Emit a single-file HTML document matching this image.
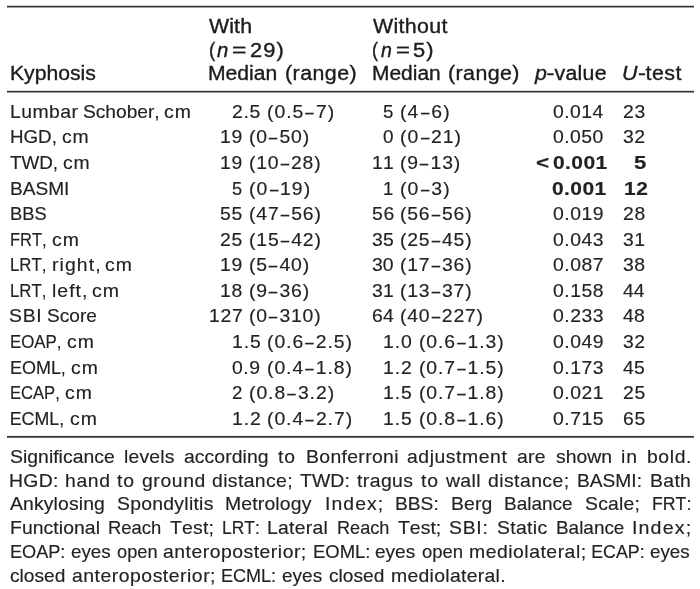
<!DOCTYPE html>
<html><head><meta charset="utf-8"><title>Table</title><style>

html,body{margin:0;padding:0;background:#fff;}
body{width:700px;height:589px;position:relative;overflow:hidden;filter:grayscale(1);font-family:"Liberation Sans",sans-serif;}
.t{position:absolute;white-space:pre;transform-origin:0 0;font-kerning:none;}
.h{font-size:19.6px;line-height:22px;color:#1c1c1c;-webkit-text-stroke:0.35px currentColor;}
.b{font-size:17.8px;line-height:20px;color:#222;-webkit-text-stroke:0.15px currentColor;}
.bd{font-weight:bold;}
.hy{display:inline-block;transform:scaleX(1.12);}
.d{display:inline-block;transform:scaleX(.78);-webkit-text-stroke:0.2px currentColor;}
i{font-style:italic;}
.r{position:absolute;left:7px;width:687px;height:3px;}

</style></head><body>
<div class="r" style="top:5px;background:linear-gradient(#d0d0d0 0 1px,#333 1px 2px,#a0a0a0 2px 3px)"></div>
<div class="r" style="top:90px;background:linear-gradient(#d8d8d8 0 1px,#333 1px 2px,#999 2px 3px)"></div>
<div class="r" style="top:435px;background:linear-gradient(#f0f0f0 0 1px,#383838 1px 2px,#6a6a6a 2px 3px)"></div>
<span class="t h" style="left:9.68px;top:62px;letter-spacing:0.000px;transform:scaleX(1.0800)">Kyphosis</span>
<span class="t h" style="left:209.00px;top:15px;letter-spacing:0.094px;transform:scaleX(1.0900)">With</span>
<span class="t h" style="left:208.54px;top:39px;letter-spacing:0.000px;transform:scaleX(0.9565)">(</span>
<span class="t h" style="left:217.34px;top:39px;letter-spacing:0.000px;transform:scaleX(1.0400)"><i>n</i></span>
<span class="t h" style="left:232.25px;top:39px;letter-spacing:0.000px;transform:scaleX(1.2600)">=</span>
<span class="t h" style="left:249.76px;top:39px;letter-spacing:1.000px;transform:scaleX(1.1158)">29)</span>
<span class="t h" style="left:207.78px;top:62px;letter-spacing:0.000px;transform:scaleX(1.0785)">Median</span>
<span class="t h" style="left:284.91px;top:62px;letter-spacing:0.434px;transform:scaleX(1.0900)">(range)</span>
<span class="t h" style="left:373.00px;top:15px;letter-spacing:0.293px;transform:scaleX(1.0900)">Without</span>
<span class="t h" style="left:372.38px;top:39px;letter-spacing:0.000px;transform:scaleX(0.9217)">(</span>
<span class="t h" style="left:380.95px;top:39px;letter-spacing:0.000px;transform:scaleX(1.0000)"><i>n</i></span>
<span class="t h" style="left:396.08px;top:39px;letter-spacing:0.000px;transform:scaleX(1.2200)">=</span>
<span class="t h" style="left:413.44px;top:39px;letter-spacing:1.000px;transform:scaleX(1.1176)">5)</span>
<span class="t h" style="left:371.80px;top:62px;letter-spacing:-0.000px;transform:scaleX(1.0688)">Median</span>
<span class="t h" style="left:447.91px;top:62px;letter-spacing:0.403px;transform:scaleX(1.0900)">(range)</span>
<span class="t h" style="left:535.22px;top:62px;letter-spacing:0.240px;transform:scaleX(1.0900)"><i>p</i><span class="hy">-</span>value</span>
<span class="t h" style="left:622.24px;top:62px;letter-spacing:0.442px;transform:scaleX(1.0900)"><i>U</i><span class="hy">-</span>test</span>
<span class="t b" style="left:9.54px;top:102px;letter-spacing:0.397px;transform:scaleX(1.0900)">Lumbar</span>
<span class="t b" style="left:82.59px;top:102px;letter-spacing:0.000px;transform:scaleX(1.0768)">Schober,</span>
<span class="t b" style="left:164.28px;top:102px;letter-spacing:1.000px;transform:scaleX(1.0913)">cm</span>
<span class="t b" style="left:9.58px;top:127px;letter-spacing:-0.000px;transform:scaleX(1.0539)">HGD,</span>
<span class="t b" style="left:62.08px;top:127px;letter-spacing:0.844px;transform:scaleX(1.0900)">cm</span>
<span class="t b" style="left:9.74px;top:153px;letter-spacing:0.000px;transform:scaleX(1.0583)">TWD,</span>
<span class="t b" style="left:63.48px;top:153px;letter-spacing:0.752px;transform:scaleX(1.0900)">cm</span>
<span class="t b" style="left:9.56px;top:179px;letter-spacing:0.000px;transform:scaleX(1.0724)">BASMI</span>
<span class="t b" style="left:9.61px;top:204px;letter-spacing:0.000px;transform:scaleX(1.0281)">BBS</span>
<span class="t b" style="left:9.94px;top:230px;letter-spacing:0.000px;transform:scaleX(0.9252)">FRT,</span>
<span class="t b" style="left:51.58px;top:230px;letter-spacing:0.936px;transform:scaleX(1.0900)">cm</span>
<span class="t b" style="left:9.92px;top:255px;letter-spacing:0.000px;transform:scaleX(0.9455)">LRT,</span>
<span class="t b" style="left:52.11px;top:255px;letter-spacing:1.000px;transform:scaleX(1.0905)">right,</span>
<span class="t b" style="left:105.18px;top:255px;letter-spacing:0.936px;transform:scaleX(1.0900)">cm</span>
<span class="t b" style="left:9.92px;top:281px;letter-spacing:0.000px;transform:scaleX(0.9455)">LRT,</span>
<span class="t b" style="left:52.11px;top:281px;letter-spacing:0.960px;transform:scaleX(1.0900)">left,</span>
<span class="t b" style="left:91.98px;top:281px;letter-spacing:1.000px;transform:scaleX(1.0957)">cm</span>
<span class="t b" style="left:9.48px;top:306px;letter-spacing:0.649px;transform:scaleX(1.0900)">SBI</span>
<span class="t b" style="left:47.30px;top:306px;letter-spacing:0.000px;transform:scaleX(1.0733)">Score</span>
<span class="t b" style="left:9.82px;top:332px;letter-spacing:0.000px;transform:scaleX(0.9469)">EOAP,</span>
<span class="t b" style="left:67.18px;top:332px;letter-spacing:0.936px;transform:scaleX(1.0900)">cm</span>
<span class="t b" style="left:9.74px;top:358px;letter-spacing:0.000px;transform:scaleX(1.0095)">EOML,</span>
<span class="t b" style="left:71.18px;top:358px;letter-spacing:0.936px;transform:scaleX(1.0900)">cm</span>
<span class="t b" style="left:9.83px;top:383px;letter-spacing:0.000px;transform:scaleX(0.9320)">ECAP,</span>
<span class="t b" style="left:65.18px;top:383px;letter-spacing:0.936px;transform:scaleX(1.0900)">cm</span>
<span class="t b" style="left:9.75px;top:409px;letter-spacing:0.000px;transform:scaleX(1.0000)">ECML,</span>
<span class="t b" style="left:69.68px;top:409px;letter-spacing:1.000px;transform:scaleX(1.0913)">cm</span>
<span class="t b" style="left:232.18px;top:102px;letter-spacing:0.623px;transform:scaleX(1.0900)">2.5</span>
<span class="t b" style="left:266.91px;top:102px;letter-spacing:0.897px;transform:scaleX(1.0900)">(0.5<span class="d">–</span>7)</span>
<span class="t b" style="left:220.24px;top:127px;letter-spacing:0.690px;transform:scaleX(1.0900)">19</span>
<span class="t b" style="left:248.91px;top:127px;letter-spacing:0.742px;transform:scaleX(1.0900)">(0<span class="d">–</span>50)</span>
<span class="t b" style="left:220.24px;top:153px;letter-spacing:0.690px;transform:scaleX(1.0900)">19</span>
<span class="t b" style="left:248.91px;top:153px;letter-spacing:0.737px;transform:scaleX(1.0900)">(10<span class="d">–</span>28)</span>
<span class="t b" style="left:232.23px;top:179px;letter-spacing:0.000px;transform:scaleX(1.0235)">5</span>
<span class="t b" style="left:248.91px;top:179px;letter-spacing:0.926px;transform:scaleX(1.0900)">(0<span class="d">–</span>19)</span>
<span class="t b" style="left:220.18px;top:204px;letter-spacing:0.741px;transform:scaleX(1.0900)">55</span>
<span class="t b" style="left:248.91px;top:204px;letter-spacing:0.767px;transform:scaleX(1.0900)">(47<span class="d">–</span>56)</span>
<span class="t b" style="left:220.18px;top:230px;letter-spacing:0.741px;transform:scaleX(1.0900)">25</span>
<span class="t b" style="left:248.91px;top:230px;letter-spacing:0.767px;transform:scaleX(1.0900)">(15<span class="d">–</span>42)</span>
<span class="t b" style="left:220.24px;top:255px;letter-spacing:0.690px;transform:scaleX(1.0900)">19</span>
<span class="t b" style="left:248.91px;top:255px;letter-spacing:0.742px;transform:scaleX(1.0900)">(5<span class="d">–</span>40)</span>
<span class="t b" style="left:220.24px;top:281px;letter-spacing:0.690px;transform:scaleX(1.0900)">18</span>
<span class="t b" style="left:248.91px;top:281px;letter-spacing:0.742px;transform:scaleX(1.0900)">(9<span class="d">–</span>36)</span>
<span class="t b" style="left:209.04px;top:306px;letter-spacing:0.608px;transform:scaleX(1.0900)">127</span>
<span class="t b" style="left:248.91px;top:306px;letter-spacing:0.737px;transform:scaleX(1.0900)">(0<span class="d">–</span>310)</span>
<span class="t b" style="left:231.74px;top:332px;letter-spacing:0.827px;transform:scaleX(1.0900)">1.5</span>
<span class="t b" style="left:266.91px;top:332px;letter-spacing:0.851px;transform:scaleX(1.0900)">(0.6<span class="d">–</span>2.5)</span>
<span class="t b" style="left:232.46px;top:358px;letter-spacing:0.498px;transform:scaleX(1.0900)">0.9</span>
<span class="t b" style="left:266.91px;top:358px;letter-spacing:0.851px;transform:scaleX(1.0900)">(0.4<span class="d">–</span>1.8)</span>
<span class="t b" style="left:232.21px;top:383px;letter-spacing:0.000px;transform:scaleX(1.0545)">2</span>
<span class="t b" style="left:248.91px;top:383px;letter-spacing:0.862px;transform:scaleX(1.0900)">(0.8<span class="d">–</span>3.2)</span>
<span class="t b" style="left:231.74px;top:409px;letter-spacing:0.827px;transform:scaleX(1.0900)">1.2</span>
<span class="t b" style="left:266.91px;top:409px;letter-spacing:0.862px;transform:scaleX(1.0900)">(0.4<span class="d">–</span>2.7)</span>
<span class="t b" style="left:383.21px;top:102px;letter-spacing:0.000px;transform:scaleX(1.0471)">5</span>
<span class="t b" style="left:400.11px;top:102px;letter-spacing:0.997px;transform:scaleX(1.0900)">(4<span class="d">–</span>6)</span>
<span class="t b" style="left:383.07px;top:127px;letter-spacing:0.000px;transform:scaleX(1.0629)">0</span>
<span class="t b" style="left:400.11px;top:127px;letter-spacing:0.889px;transform:scaleX(1.0900)">(0<span class="d">–</span>21)</span>
<span class="t b" style="left:372.04px;top:153px;letter-spacing:0.140px;transform:scaleX(1.0900)">11</span>
<span class="t b" style="left:400.11px;top:153px;letter-spacing:0.779px;transform:scaleX(1.0900)">(9<span class="d">–</span>13)</span>
<span class="t b" style="left:383.30px;top:179px;letter-spacing:0.000px;transform:scaleX(1.0375)">1</span>
<span class="t b" style="left:400.11px;top:179px;letter-spacing:0.997px;transform:scaleX(1.0900)">(0<span class="d">–</span>3)</span>
<span class="t b" style="left:371.58px;top:204px;letter-spacing:0.557px;transform:scaleX(1.0900)">56</span>
<span class="t b" style="left:400.11px;top:204px;letter-spacing:0.737px;transform:scaleX(1.0900)">(56<span class="d">–</span>56)</span>
<span class="t b" style="left:371.85px;top:230px;letter-spacing:0.307px;transform:scaleX(1.0900)">35</span>
<span class="t b" style="left:400.11px;top:230px;letter-spacing:0.737px;transform:scaleX(1.0900)">(25<span class="d">–</span>45)</span>
<span class="t b" style="left:371.85px;top:255px;letter-spacing:0.057px;transform:scaleX(1.0900)">30</span>
<span class="t b" style="left:400.11px;top:255px;letter-spacing:0.737px;transform:scaleX(1.0900)">(17<span class="d">–</span>36)</span>
<span class="t b" style="left:371.85px;top:281px;letter-spacing:0.307px;transform:scaleX(1.0900)">31</span>
<span class="t b" style="left:400.11px;top:281px;letter-spacing:0.737px;transform:scaleX(1.0900)">(13<span class="d">–</span>37)</span>
<span class="t b" style="left:371.58px;top:306px;letter-spacing:0.307px;transform:scaleX(1.0900)">64</span>
<span class="t b" style="left:400.11px;top:306px;letter-spacing:0.697px;transform:scaleX(1.0900)">(40<span class="d">–</span>227)</span>
<span class="t b" style="left:383.34px;top:332px;letter-spacing:0.873px;transform:scaleX(1.0900)">1.0</span>
<span class="t b" style="left:418.61px;top:332px;letter-spacing:0.805px;transform:scaleX(1.0900)">(0.6<span class="d">–</span>1.3)</span>
<span class="t b" style="left:383.34px;top:358px;letter-spacing:0.873px;transform:scaleX(1.0900)">1.2</span>
<span class="t b" style="left:418.61px;top:358px;letter-spacing:0.805px;transform:scaleX(1.0900)">(0.7<span class="d">–</span>1.5)</span>
<span class="t b" style="left:383.34px;top:383px;letter-spacing:0.873px;transform:scaleX(1.0900)">1.5</span>
<span class="t b" style="left:418.61px;top:383px;letter-spacing:0.805px;transform:scaleX(1.0900)">(0.7<span class="d">–</span>1.8)</span>
<span class="t b" style="left:383.34px;top:409px;letter-spacing:0.873px;transform:scaleX(1.0900)">1.5</span>
<span class="t b" style="left:418.61px;top:409px;letter-spacing:0.805px;transform:scaleX(1.0900)">(0.8<span class="d">–</span>1.6)</span>
<span class="t b" style="left:552.56px;top:102px;letter-spacing:0.409px;transform:scaleX(1.0900)">0.014</span>
<span class="t b" style="left:552.56px;top:127px;letter-spacing:0.409px;transform:scaleX(1.0900)">0.050</span>
<span class="t b" style="left:552.56px;top:204px;letter-spacing:0.472px;transform:scaleX(1.0900)">0.019</span>
<span class="t b" style="left:552.56px;top:230px;letter-spacing:0.472px;transform:scaleX(1.0900)">0.043</span>
<span class="t b" style="left:552.56px;top:255px;letter-spacing:0.472px;transform:scaleX(1.0900)">0.087</span>
<span class="t b" style="left:552.56px;top:281px;letter-spacing:0.472px;transform:scaleX(1.0900)">0.158</span>
<span class="t b" style="left:552.56px;top:306px;letter-spacing:0.472px;transform:scaleX(1.0900)">0.233</span>
<span class="t b" style="left:552.56px;top:332px;letter-spacing:0.472px;transform:scaleX(1.0900)">0.049</span>
<span class="t b" style="left:552.56px;top:358px;letter-spacing:0.472px;transform:scaleX(1.0900)">0.173</span>
<span class="t b" style="left:552.56px;top:383px;letter-spacing:0.472px;transform:scaleX(1.0900)">0.021</span>
<span class="t b" style="left:552.56px;top:409px;letter-spacing:0.472px;transform:scaleX(1.0900)">0.715</span>
<span class="t b bd" style="left:535.55px;top:153px;letter-spacing:0.000px;transform:scaleX(1.2667)">&lt;</span>
<span class="t b bd" style="left:552.51px;top:153px;letter-spacing:0.355px;transform:scaleX(1.1800)">0.001</span>
<span class="t b bd" style="left:551.81px;top:179px;letter-spacing:0.355px;transform:scaleX(1.1800)">0.001</span>
<span class="t b" style="left:622.68px;top:102px;letter-spacing:0.649px;transform:scaleX(1.0900)">23</span>
<span class="t b" style="left:622.96px;top:127px;letter-spacing:0.399px;transform:scaleX(1.0900)">32</span>
<span class="t b" style="left:622.68px;top:204px;letter-spacing:0.649px;transform:scaleX(1.0900)">28</span>
<span class="t b" style="left:622.96px;top:230px;letter-spacing:0.399px;transform:scaleX(1.0900)">31</span>
<span class="t b" style="left:622.96px;top:255px;letter-spacing:0.399px;transform:scaleX(1.0900)">38</span>
<span class="t b" style="left:623.23px;top:281px;letter-spacing:0.000px;transform:scaleX(1.0842)">44</span>
<span class="t b" style="left:623.23px;top:306px;letter-spacing:0.149px;transform:scaleX(1.0900)">48</span>
<span class="t b" style="left:622.96px;top:332px;letter-spacing:0.399px;transform:scaleX(1.0900)">32</span>
<span class="t b" style="left:623.23px;top:358px;letter-spacing:0.149px;transform:scaleX(1.0900)">45</span>
<span class="t b" style="left:622.68px;top:383px;letter-spacing:0.649px;transform:scaleX(1.0900)">25</span>
<span class="t b" style="left:622.68px;top:409px;letter-spacing:0.649px;transform:scaleX(1.0900)">65</span>
<span class="t b bd" style="left:634.38px;top:153px;letter-spacing:0.000px;transform:scaleX(1.2444)">5</span>
<span class="t b bd" style="left:623.52px;top:179px;letter-spacing:0.564px;transform:scaleX(1.1800)">12</span>
<span class="t b" style="left:9.68px;top:447px;letter-spacing:0.020px;transform:scaleX(1.0900)">Significance</span>
<span class="t b" style="left:123.91px;top:447px;letter-spacing:0.145px;transform:scaleX(1.0900)">levels</span>
<span class="t b" style="left:184.18px;top:447px;letter-spacing:0.055px;transform:scaleX(1.0900)">according</span>
<span class="t b" style="left:278.48px;top:447px;letter-spacing:0.908px;transform:scaleX(1.0900)">to</span>
<span class="t b" style="left:305.64px;top:447px;letter-spacing:0.313px;transform:scaleX(1.0900)">Bonferroni</span>
<span class="t b" style="left:407.18px;top:447px;letter-spacing:0.508px;transform:scaleX(1.0900)">adjustment</span>
<span class="t b" style="left:517.18px;top:447px;letter-spacing:0.260px;transform:scaleX(1.0900)">are</span>
<span class="t b" style="left:555.71px;top:447px;letter-spacing:0.005px;transform:scaleX(1.0900)">shown</span>
<span class="t b" style="left:621.41px;top:447px;letter-spacing:0.865px;transform:scaleX(1.0900)">in</span>
<span class="t b" style="left:646.91px;top:447px;letter-spacing:0.541px;transform:scaleX(1.0900)">bold.</span>
<span class="t b" style="left:9.14px;top:471px;letter-spacing:0.304px;transform:scaleX(1.0900)">HGD:</span>
<span class="t b" style="left:64.89px;top:471px;letter-spacing:0.580px;transform:scaleX(1.0900)">hand</span>
<span class="t b" style="left:117.23px;top:471px;letter-spacing:0.908px;transform:scaleX(1.0900)">to</span>
<span class="t b" style="left:141.68px;top:471px;letter-spacing:0.539px;transform:scaleX(1.0900)">ground</span>
<span class="t b" style="left:211.68px;top:471px;letter-spacing:0.349px;transform:scaleX(1.0900)">distance;</span>
<span class="t b" style="left:299.73px;top:471px;letter-spacing:0.096px;transform:scaleX(1.0900)">TWD:</span>
<span class="t b" style="left:357.23px;top:471px;letter-spacing:0.392px;transform:scaleX(1.0900)">tragus</span>
<span class="t b" style="left:420.98px;top:471px;letter-spacing:0.908px;transform:scaleX(1.0900)">to</span>
<span class="t b" style="left:446.25px;top:471px;letter-spacing:0.335px;transform:scaleX(1.0900)">wall</span>
<span class="t b" style="left:487.93px;top:471px;letter-spacing:0.406px;transform:scaleX(1.0900)">distance;</span>
<span class="t b" style="left:576.65px;top:471px;letter-spacing:0.000px;transform:scaleX(1.0783)">BASMI:</span>
<span class="t b" style="left:649.89px;top:471px;letter-spacing:0.311px;transform:scaleX(1.0900)">Bath</span>
<span class="t b" style="left:10.00px;top:494px;letter-spacing:0.112px;transform:scaleX(1.0900)">Ankylosing</span>
<span class="t b" style="left:116.68px;top:494px;letter-spacing:0.241px;transform:scaleX(1.0900)">Spondylitis</span>
<span class="t b" style="left:225.39px;top:494px;letter-spacing:0.151px;transform:scaleX(1.0900)">Metrology</span>
<span class="t b" style="left:324.62px;top:494px;letter-spacing:0.992px;transform:scaleX(1.0900)">Index;</span>
<span class="t b" style="left:394.90px;top:494px;letter-spacing:0.000px;transform:scaleX(1.0795)">BBS:</span>
<span class="t b" style="left:451.14px;top:494px;letter-spacing:0.100px;transform:scaleX(1.0900)">Berg</span>
<span class="t b" style="left:504.16px;top:494px;letter-spacing:0.000px;transform:scaleX(1.0683)">Balance</span>
<span class="t b" style="left:584.68px;top:494px;letter-spacing:0.183px;transform:scaleX(1.0900)">Scale;</span>
<span class="t b" style="left:651.76px;top:494px;letter-spacing:0.000px;transform:scaleX(0.9959)">FRT:</span>
<span class="t b" style="left:9.89px;top:518px;letter-spacing:0.058px;transform:scaleX(1.0900)">Functional</span>
<span class="t b" style="left:107.96px;top:518px;letter-spacing:-0.000px;transform:scaleX(1.0357)">Reach</span>
<span class="t b" style="left:170.23px;top:518px;letter-spacing:0.196px;transform:scaleX(1.0900)">Test;</span>
<span class="t b" style="left:221.78px;top:518px;letter-spacing:0.000px;transform:scaleX(0.9790)">LRT:</span>
<span class="t b" style="left:267.39px;top:518px;letter-spacing:0.240px;transform:scaleX(1.0900)">Lateral</span>
<span class="t b" style="left:336.72px;top:518px;letter-spacing:0.000px;transform:scaleX(1.0204)">Reach</span>
<span class="t b" style="left:398.48px;top:518px;letter-spacing:0.024px;transform:scaleX(1.0900)">Test;</span>
<span class="t b" style="left:449.18px;top:518px;letter-spacing:0.669px;transform:scaleX(1.0900)">SBI:</span>
<span class="t b" style="left:497.18px;top:518px;letter-spacing:0.295px;transform:scaleX(1.0900)">Static</span>
<span class="t b" style="left:555.67px;top:518px;letter-spacing:0.000px;transform:scaleX(1.0643)">Balance</span>
<span class="t b" style="left:632.09px;top:518px;letter-spacing:1.000px;transform:scaleX(1.1059)">Index;</span>
<span class="t b" style="left:9.98px;top:542px;letter-spacing:0.000px;transform:scaleX(1.0194)">EOAP:</span>
<span class="t b" style="left:70.96px;top:542px;letter-spacing:-0.000px;transform:scaleX(1.0552)">eyes</span>
<span class="t b" style="left:116.73px;top:542px;letter-spacing:0.000px;transform:scaleX(1.0265)">open</span>
<span class="t b" style="left:163.43px;top:542px;letter-spacing:0.459px;transform:scaleX(1.0900)">anteroposterior;</span>
<span class="t b" style="left:312.95px;top:542px;letter-spacing:-0.000px;transform:scaleX(1.0381)">EOML:</span>
<span class="t b" style="left:375.45px;top:542px;letter-spacing:0.000px;transform:scaleX(1.0690)">eyes</span>
<span class="t b" style="left:421.72px;top:542px;letter-spacing:0.000px;transform:scaleX(1.0397)">open</span>
<span class="t b" style="left:468.91px;top:542px;letter-spacing:0.468px;transform:scaleX(1.0900)">mediolateral;</span>
<span class="t b" style="left:591.25px;top:542px;letter-spacing:0.000px;transform:scaleX(1.0000)">ECAP:</span>
<span class="t b" style="left:650.46px;top:542px;letter-spacing:0.000px;transform:scaleX(1.0579)">eyes</span>
<span class="t b" style="left:9.69px;top:566px;letter-spacing:0.000px;transform:scaleX(1.0758)">closed</span>
<span class="t b" style="left:71.68px;top:566px;letter-spacing:0.474px;transform:scaleX(1.0900)">anteroposterior;</span>
<span class="t b" style="left:220.73px;top:566px;letter-spacing:0.000px;transform:scaleX(1.0146)">ECML:</span>
<span class="t b" style="left:281.70px;top:566px;letter-spacing:0.000px;transform:scaleX(1.0690)">eyes</span>
<span class="t b" style="left:329.19px;top:566px;letter-spacing:0.000px;transform:scaleX(1.0758)">closed</span>
<span class="t b" style="left:390.91px;top:566px;letter-spacing:0.273px;transform:scaleX(1.0900)">mediolateral.</span>
</body></html>
